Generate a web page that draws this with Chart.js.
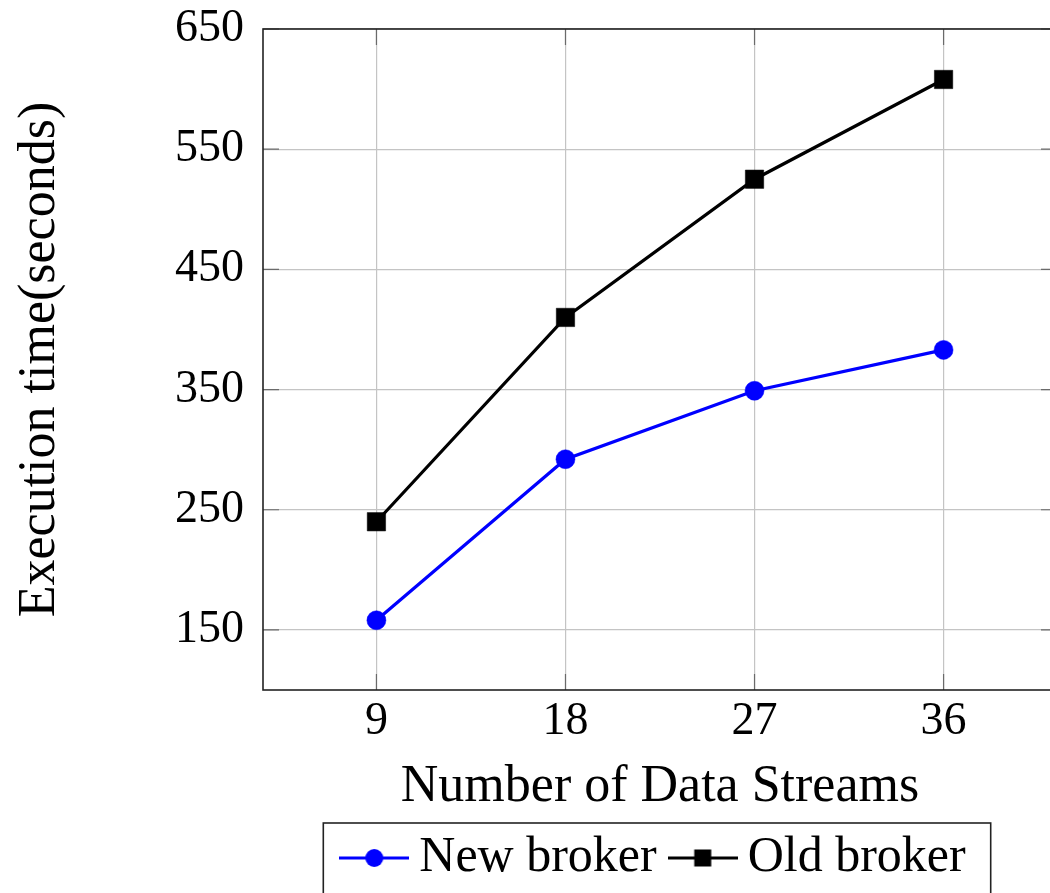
<!DOCTYPE html>
<html><head><meta charset="utf-8">
<script src="https://cdn.jsdelivr.net/npm/chart.js@4.4.1/dist/chart.umd.min.js"></script>
<style>
html,body{margin:0;padding:0;overflow:hidden;background:#fff;width:1050px;height:893px}
#wrap{position:absolute;left:0;top:0;width:1320px;height:910px}
</style>
</head><body><div id="wrap"><canvas id="c" width="1320" height="910"></canvas></div>
<script>
const categories = ['9', '18', '27', '36'];
const newBroker = [158, 292, 349, 383];
const oldBroker = [240, 410, 525, 608];
const yTicks = [150, 250, 350, 450, 550, 650];
const seriesNames = ['New broker', 'Old broker'];
const xTitle = 'Number of Data Streams';
const yTitle = 'Execution time(seconds)';

const FONT = "'Liberation Serif', 'Times New Roman', serif";
const LEGEND_PAD = 26;
const LEGEND_FONT = 50;

function legendImg(color, style) {
  const c = document.createElement('canvas');
  c.width = 70; c.height = 24;
  const g = c.getContext('2d');
  g.strokeStyle = color; g.lineWidth = 3;
  g.beginPath(); g.moveTo(0, 12); g.lineTo(70, 12); g.stroke();
  g.fillStyle = color;
  if (style === 'circle') { g.beginPath(); g.arc(35, 12, 9, 0, Math.PI * 2); g.fill(); }
  else { g.fillRect(35 - 8.5, 12 - 8.5, 17, 17); }
  return c;
}
const legendImgs = [legendImg('#0000ff', 'circle'), legendImg('#000000', 'rect')];

const framePlugin = {
  id: 'frame',
  afterUpdate(chart) {
    // centre the legend under the plot area rather than the whole canvas
    const lg = chart.legend;
    if (!lg) return;
    const a = chart.chartArea;
    const shift = (a.left + a.right) / 2 - (lg.left + lg.right) / 2;
    lg.left += shift; lg.right += shift;
  },
  beforeDatasetsDraw(chart) {
    const {ctx, chartArea: a, scales: {x, y}} = chart;
    const tl = 16;
    ctx.save();
    ctx.strokeStyle = '#6a6a6a'; ctx.lineWidth = 1.2;
    x.ticks.forEach(t => {
      const px = x.getPixelForValue(t.value);
      ctx.beginPath();
      ctx.moveTo(px, a.bottom); ctx.lineTo(px, a.bottom - tl);
      ctx.moveTo(px, a.top); ctx.lineTo(px, a.top + tl);
      ctx.stroke();
    });
    y.ticks.forEach(t => {
      const py = y.getPixelForValue(t.value);
      ctx.beginPath();
      ctx.moveTo(a.left, py); ctx.lineTo(a.left + tl, py);
      ctx.moveTo(a.right, py); ctx.lineTo(a.right - tl, py);
      ctx.stroke();
    });
    ctx.strokeStyle = '#222'; ctx.lineWidth = 1.6;
    ctx.strokeRect(a.left, a.top, a.right - a.left, a.bottom - a.top);
    ctx.restore();
  },
  afterDraw(chart) {
    const lg = chart.legend;
    if (!lg || !lg.legendHitBoxes || !lg.legendHitBoxes.length) return;
    const hb = lg.legendHitBoxes;
    let total = 0;
    hb.forEach(h => { total += h.width; });
    total += LEGEND_PAD * (hb.length - 1);
    const start = (lg.left + LEGEND_PAD + lg.right - lg.lineWidths[0]) / 2;
    const cy = lg.top + LEGEND_PAD + LEGEND_FONT / 2;
    const ctx = chart.ctx;
    ctx.save();
    ctx.strokeStyle = '#222'; ctx.lineWidth = 1.6;
    const l = start - 31, r = start + total + 25;
    ctx.strokeRect(l, cy - 35, r - l, 72);
    ctx.restore();
  }
};

new Chart(document.getElementById('c'), {
  type: 'line',
  data: {
    datasets: [
      {
        label: seriesNames[0],
        data: newBroker.map((v, i) => ({x: i, y: v})),
        borderColor: '#0000ff', backgroundColor: '#0000ff',
        borderWidth: 3.2, pointStyle: 'circle', pointRadius: 9.5,
        pointBorderWidth: 0.5, pointBackgroundColor: '#0000ff', pointBorderColor: '#0000ff',
        tension: 0
      },
      {
        label: seriesNames[1],
        data: oldBroker.map((v, i) => ({x: i, y: v})),
        borderColor: '#000000', backgroundColor: '#000000',
        borderWidth: 3.2, pointStyle: 'rect', pointRadius: 13,
        pointBorderWidth: 0.5, pointBackgroundColor: '#000000', pointBorderColor: '#000000',
        tension: 0
      }
    ]
  },
  options: {
    responsive: false,
    animation: false,
    devicePixelRatio: 1,
    layout: {padding: {top: 29, right: 263, left: 0, bottom: 17}},
    plugins: {
      tooltip: {enabled: false},
      legend: {
        position: 'bottom',
        labels: {
          usePointStyle: true,
          pointStyleWidth: 40,
          padding: LEGEND_PAD,
          color: '#000',
          font: {family: FONT, size: LEGEND_FONT},
          generateLabels(chart) {
            const items = Chart.defaults.plugins.legend.labels.generateLabels(chart);
            items.forEach((it, i) => { it.pointStyle = legendImgs[i]; });
            return items;
          }
        }
      }
    },
    scales: {
      x: {
        type: 'linear', min: -0.6, max: 3.6,
        afterBuildTicks(s) { s.ticks = categories.map((c, i) => ({value: i})); },
        afterFit(s) { s.height = 117; },
        ticks: {
          callback: (v) => categories[v],
          color: '#000', padding: 4,
          font: {family: FONT, size: 46}
        },
        grid: {color: '#c4c4c4', lineWidth: 1.2, drawTicks: false},
        border: {display: false},
        title: {display: true, text: xTitle, color: '#000', padding: {top: 0, bottom: 0},
          font: {family: FONT, size: 52, lineHeight: 0.75}}
      },
      y: {
        type: 'linear', min: 100, max: 650,
        afterBuildTicks(s) { s.ticks = yTicks.map(v => ({value: v})); },
        afterFit(s) { s.width = 263; s.paddingTop = 0; s.paddingBottom = 0; },
        ticks: {color: '#000', padding: 19, font: {family: FONT, size: 46}},
        grid: {color: '#c4c4c4', lineWidth: 1.2, drawTicks: false},
        border: {display: false},
        title: {display: true, text: yTitle, color: '#000', padding: {top: 14, bottom: 0},
          font: {family: FONT, size: 52, lineHeight: 1.0}}
      }
    }
  },
  plugins: [framePlugin]
});
</script>
</body></html>
